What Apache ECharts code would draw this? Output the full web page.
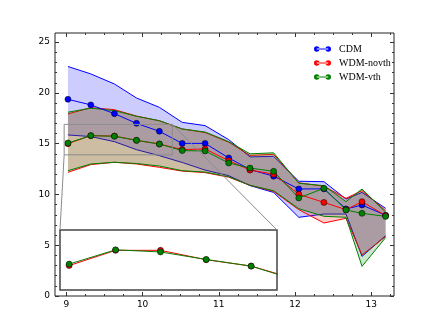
<!DOCTYPE html>
<html lang="en">
<head>
    <meta charset="UTF-8">
    <title>CDM vs WDM</title>
    <script src="https://cdn.jsdelivr.net/npm/echarts@6/dist/echarts.min.js"></script>
    <style>
        html, body {
            margin: 0;
            padding: 0;
            background-color: #fff;
        }
        #chart {
            width: 438px;
            height: 329px;
        }
    </style>
</head>
<body>
<div id="chart"></div>

<script>
    // x positions of the bins
    const xs = [9.02, 9.32, 9.63, 9.92, 10.22, 10.52, 10.82, 11.13, 11.41, 11.72, 12.05, 12.38, 12.67, 12.88, 13.19];

    // CDM: median and band
    const cdmMid = [19.37, 18.82, 17.96, 17.0, 16.22, 15.03, 15.03, 13.6, 12.45, 11.8, 10.54, 10.55, 8.57, 8.96, 7.95];
    const cdmHi = [22.6, 21.87, 20.88, 19.5, 18.58, 17.1, 16.78, 15.4, 13.7, 13.75, 11.3, 11.26, 9.55, 10.2, 8.63];
    const cdmLo = [15.86, 15.7, 15.2, 14.41, 13.82, 13.15, 12.4, 11.85, 10.87, 10.2, 7.75, 8.07, 8.07, 3.9, 5.94];

    // WDM-novth
    const novMid = [15.0, 15.79, 15.75, 15.33, 14.97, 14.42, 14.48, 13.33, 12.4, 12.0, 10.02, 9.22, 8.5, 9.29, 7.92];
    const novHi = [17.93, 18.55, 18.35, 17.72, 17.25, 16.45, 16.1, 15.15, 13.85, 13.95, 11.15, 10.8, 9.62, 10.38, 8.4];
    const novLo = [12.18, 12.94, 13.17, 13.0, 12.67, 12.3, 12.15, 11.7, 10.9, 10.3, 8.5, 7.19, 7.65, 4.04, 5.85];

    // WDM-vth
    const vthMid = [15.07, 15.79, 15.73, 15.33, 14.97, 14.32, 14.28, 13.1, 12.6, 12.28, 9.66, 10.6, 8.47, 8.14, 7.84];
    const vthHi = [18.1, 18.5, 18.26, 17.7, 17.27, 16.45, 16.15, 15.2, 14.0, 14.1, 11.1, 10.87, 9.29, 10.54, 8.25];
    const vthLo = [12.34, 13.0, 13.17, 13.05, 12.8, 12.34, 12.2, 11.75, 10.9, 10.37, 8.6, 7.85, 7.75, 2.92, 5.75];

    // inset panel
    const insetX = [9.02, 9.63, 10.22, 10.82, 11.41, 12.05];
    const insetNov = [2.9, 4.4, 4.4, 3.48, 2.85, 1.45];
    const insetVth = [3.05, 4.45, 4.24, 3.5, 2.85, 1.36];

    // zoomed region marked on the main axes: [x0, x1, y0, y1]
    const zoomRegion = [8.97, 10.39, 13.9, 16.9];

    // ticks
    const xMajor = [9, 10, 11, 12, 13];
    const xMinor = [9.25, 9.5, 9.75, 10.25, 10.5, 10.75, 11.25, 11.5, 11.75, 12.25, 12.5, 12.75, 13.25];
    const yMajor = [0, 5, 10, 15, 20, 25];
    const yMinor = [1, 2, 3, 4, 6, 7, 8, 9, 11, 12, 13, 14, 16, 17, 18, 19, 21, 22, 23, 24];

    const names = ['CDM', 'WDM-novth', 'WDM-vth'];
    const colors = ['#0000ff', '#ff0000', '#008000'];
    const fills = ['rgba(0,0,255,0.2)', 'rgba(255,0,0,0.2)', 'rgba(0,128,0,0.2)'];

    const X_MIN = 8.85, X_MAX = 13.3, Y_MIN = 0, Y_MAX = 25.9;
    const tickColor = '#333';
    const labelFont = { fontFamily: 'DejaVu Sans', fontSize: 9, color: '#000' };

    function pairs(x, y) {
        return x.map((v, i) => [v, y[i]]);
    }

    function xAxisDef(position, values, len, labels) {
        return {
            type: 'value', gridIndex: 0, position: position,
            min: X_MIN, max: X_MAX,
            axisLine: { show: false, onZero: false },
            splitLine: { show: false },
            axisTick: { show: true, inside: true, length: len, customValues: values, lineStyle: { color: tickColor } },
            axisLabel: labels ? Object.assign({ customValues: values, margin: 4 }, labelFont) : { show: false }
        };
    }

    function yAxisDef(position, values, len, labels) {
        return {
            type: 'value', gridIndex: 0, position: position,
            min: Y_MIN, max: Y_MAX,
            axisLine: { show: false, onZero: false },
            splitLine: { show: false },
            axisTick: { show: true, inside: true, length: len, customValues: values, lineStyle: { color: tickColor } },
            axisLabel: labels ? Object.assign({ customValues: values, margin: 5 }, labelFont) : { show: false }
        };
    }

    // filled band between lo and hi, with its edges
    function band(lo, hi, color, fill) {
        return {
            type: 'custom',
            xAxisIndex: 0, yAxisIndex: 0,
            silent: true,
            z: 1,
            data: xs.map((x, i) => [x, lo[i], hi[i]]),
            encode: { x: 0, y: [1, 2] },
            renderItem: function (params, api) {
                if (params.dataIndex !== 0) return null;
                const top = xs.map((x, i) => api.coord([x, hi[i]]));
                const bot = xs.map((x, i) => api.coord([x, lo[i]]));
                return {
                    type: 'group',
                    children: [
                        { type: 'polygon', shape: { points: top.concat(bot.slice().reverse()) }, style: { fill: fill } },
                        { type: 'polyline', shape: { points: top }, style: { stroke: color, lineWidth: 1, fill: null } },
                        { type: 'polyline', shape: { points: bot }, style: { stroke: color, lineWidth: 1, fill: null } }
                    ]
                };
            }
        };
    }

    function medianLine(name, data, color, xi, yi) {
        return {
            type: 'line', name: name,
            xAxisIndex: xi, yAxisIndex: yi,
            data: data,
            symbol: 'circle', symbolSize: 6,
            lineStyle: { color: color, width: 1 },
            itemStyle: { color: color, borderColor: '#000', borderWidth: 0.5 },
            z: 3
        };
    }

    // legend icon: line with a marker at each end
    const legendIcon = 'path://M0,5.5a5.5,5.5 0 1,0 11,0a5.5,5.5 0 1,0 -11,0Z' +
        'M23,5.5a5.5,5.5 0 1,0 11,0a5.5,5.5 0 1,0 -11,0Z' +
        'M5.5,4.5H28.5V6.5H5.5Z';

    const chart = echarts.init(document.getElementById('chart'), null, { renderer: 'canvas' });

    const option = {
        animation: false,
        backgroundColor: '#fff',
        grid: [
            { left: 55, top: 33, width: 339, height: 263, show: true, borderColor: '#222', borderWidth: 1, backgroundColor: 'transparent' },
            { left: 60, top: 230, width: 217, height: 60, show: true, borderColor: '#444', borderWidth: 1.5, backgroundColor: '#fff' }
        ],
        xAxis: [
            xAxisDef('bottom', xMajor, 4, true),
            xAxisDef('top', xMajor, 4, false),
            xAxisDef('bottom', xMinor, 2, false),
            xAxisDef('top', xMinor, 2, false),
            { type: 'value', gridIndex: 1, min: 8.9, max: 11.75, show: false }
        ],
        yAxis: [
            yAxisDef('left', yMajor, 4, true),
            yAxisDef('right', yMajor, 4, false),
            yAxisDef('left', yMinor, 2, false),
            yAxisDef('right', yMinor, 2, false),
            { type: 'value', gridIndex: 1, min: 0.5, max: 6.4, show: false }
        ],
        legend: {
            orient: 'vertical',
            left: 309, top: 38,
            itemWidth: 17, itemHeight: 5.5,
            itemGap: 2,
            selectedMode: false,
            itemStyle: { borderWidth: 0 },
            textStyle: { fontFamily: 'Liberation Serif', fontSize: 10, color: '#000', lineHeight: 12, padding: [0, 0, 0, 3] },
            data: names.map(n => ({ name: n, icon: legendIcon }))
        },
        series: [
            band(cdmLo, cdmHi, colors[0], fills[0]),
            band(novLo, novHi, colors[1], fills[1]),
            band(vthLo, vthHi, colors[2], fills[2]),
            medianLine(names[0], pairs(xs, cdmMid), colors[0], 0, 0),
            medianLine(names[1], pairs(xs, novMid), colors[1], 0, 0),
            medianLine(names[2], pairs(xs, vthMid), colors[2], 0, 0),
            medianLine('inset-novth', pairs(insetX, insetNov), colors[1], 4, 4),
            medianLine('inset-vth', pairs(insetX, insetVth), colors[2], 4, 4)
        ]
    };
    chart.setOption(option);

    // zoom box and connector lines to the inset
    const p0 = chart.convertToPixel({ xAxisIndex: 0, yAxisIndex: 0 }, [zoomRegion[0], zoomRegion[2]]);
    const p1 = chart.convertToPixel({ xAxisIndex: 0, yAxisIndex: 0 }, [zoomRegion[1], zoomRegion[3]]);
    const insetTL = chart.convertToPixel({ xAxisIndex: 4, yAxisIndex: 4 }, [8.9, 6.4]);
    const insetTR = chart.convertToPixel({ xAxisIndex: 4, yAxisIndex: 4 }, [11.75, 6.4]);
    const grey = '#8c8c8c';

    chart.setOption({
        graphic: [
            {
                type: 'rect', z: 100,
                shape: { x: p0[0], y: p1[1], width: p1[0] - p0[0], height: p0[1] - p1[1] },
                style: { fill: 'none', stroke: grey, lineWidth: 1 }
            },
            {
                type: 'line', z: 100,
                shape: { x1: p0[0], y1: p0[1], x2: insetTL[0], y2: insetTL[1] },
                style: { stroke: grey, lineWidth: 1 }
            },
            {
                type: 'line', z: 100,
                shape: { x1: p1[0], y1: p1[1], x2: insetTR[0], y2: insetTR[1] },
                style: { stroke: grey, lineWidth: 1 }
            }
        ]
    });
</script>
</body>
</html>
